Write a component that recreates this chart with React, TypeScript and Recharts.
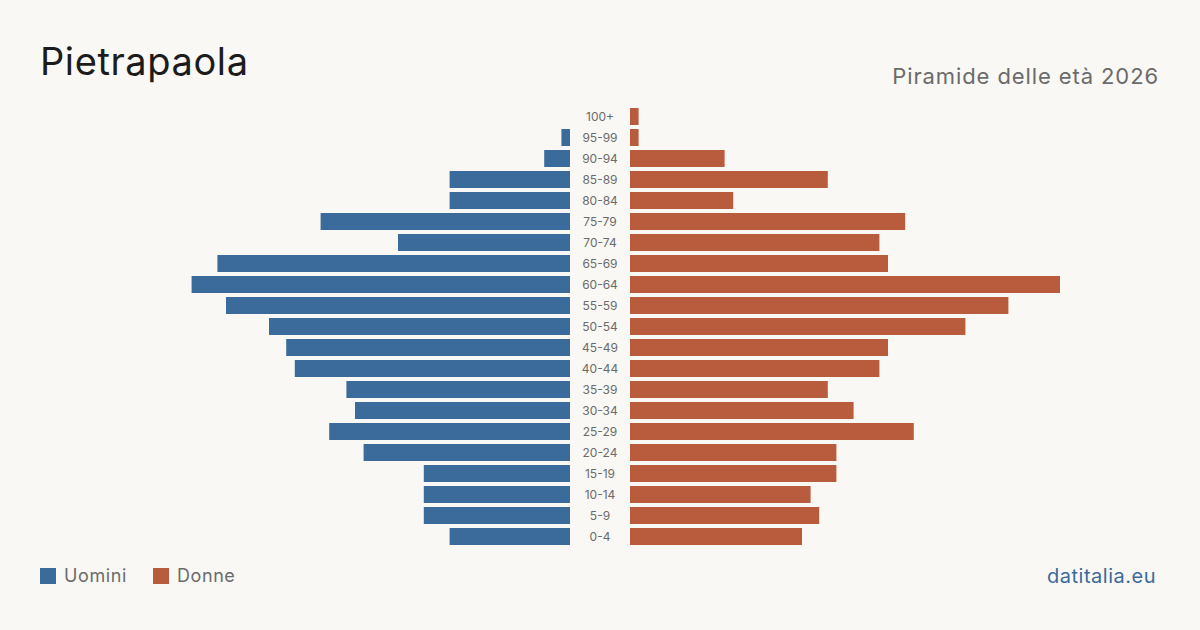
import { BarChart, Bar, XAxis, YAxis } from 'recharts';

const ageGroups = ['100+', '95-99', '90-94', '85-89', '80-84', '75-79', '70-74', '65-69', '60-64', '55-59', '50-54', '45-49', '40-44', '35-39', '30-34', '25-29', '20-24', '15-19', '10-14', '5-9', '0-4'];
const men = [0, 1, 3, 14, 14, 29, 20, 41, 44, 40, 35, 33, 32, 26, 25, 28, 24, 17, 17, 17, 14];
const women = [1, 1, 11, 23, 12, 32, 29, 30, 50, 44, 39, 30, 29, 23, 26, 33, 24, 24, 21, 22, 20];

const BLUE = '#3b6b9b';
const RUST = '#b95c3d';
const BG = '#f9f8f4';
const FONT = 'Inter, "Noto Sans", sans-serif';

const rows = ageGroups.map((age, i) => ({ age, m: men[i], f: women[i] }));

const AgeTick = ({ y, payload }: { y?: number; payload?: { value: string } }) => (
  <text x={30} y={y} textAnchor="middle" dominantBaseline="central" fontSize={12} fill="#6b6b6b" fontFamily={FONT}>
    {payload?.value}
  </text>
);

export default function App() {
  return (
    <div style={{ position: 'absolute', left: 0, top: 0, width: 1200, height: 630, background: BG, fontFamily: FONT, overflow: 'hidden' }}>
      <div style={{ position: 'absolute', left: 40, top: 42, fontSize: 38, letterSpacing: 0.6, color: '#1c1c1c', lineHeight: 1 }}>Pietrapaola</div>
      <div style={{ position: 'absolute', right: 41, top: 65, fontSize: 22, letterSpacing: 0.9, color: '#6b6b6b', lineHeight: 1 }}>Piramide delle età 2026</div>

      <div style={{ position: 'absolute', left: 140, top: 106 }}>
        <BarChart layout="vertical" width={430} height={441} data={rows} margin={{ top: 0, right: 0, bottom: 0, left: 0 }}>
          <XAxis type="number" domain={[0, 50]} reversed hide />
          <YAxis type="category" dataKey="age" hide />
          <Bar dataKey="m" fill={BLUE} barSize={17} isAnimationActive={false} />
        </BarChart>
      </div>

      <div style={{ position: 'absolute', left: 570, top: 106 }}>
        <BarChart layout="vertical" width={490} height={441} data={rows} margin={{ top: 0, right: 0, bottom: 0, left: 0 }}>
          <XAxis type="number" domain={[0, 50]} hide />
          <YAxis type="category" dataKey="age" width={60} tickLine={false} axisLine={false} tick={<AgeTick />} interval={0} />
          <Bar dataKey="f" fill={RUST} barSize={17} isAnimationActive={false} />
        </BarChart>
      </div>

      <div style={{ position: 'absolute', left: 40, top: 567, display: 'flex', alignItems: 'center', fontSize: 18, letterSpacing: 0.6, color: '#6b6b6b', lineHeight: 1 }}>
        <span style={{ width: 16, height: 16, background: BLUE, display: 'inline-block', marginRight: 8 }} />
        <span style={{ marginRight: 26 }}>Uomini</span>
        <span style={{ width: 16, height: 16, background: RUST, display: 'inline-block', marginRight: 8 }} />
        <span>Donne</span>
      </div>
      <div style={{ position: 'absolute', right: 44, top: 566, fontSize: 20, letterSpacing: 0.5, color: BLUE, lineHeight: 1 }}>datitalia.eu</div>
    </div>
  );
}
